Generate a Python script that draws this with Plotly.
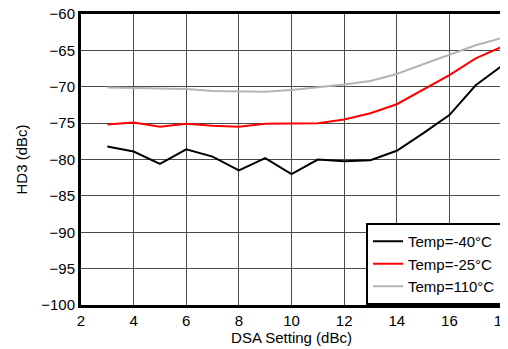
import plotly.graph_objects as go

dsa = [3, 4, 5, 6, 7, 8, 9, 10, 11, 12, 13, 14, 15, 16, 17, 18]
hd3_m40 = [-78.2, -78.9, -80.6, -78.6, -79.6, -81.5, -79.8, -82.0, -80.0, -80.25, -80.1, -78.8, -76.4, -73.9, -69.8, -67.1]
hd3_m25 = [-75.2, -74.9, -75.5, -75.1, -75.35, -75.5, -75.1, -75.0, -75.0, -74.5, -73.65, -72.4, -70.45, -68.4, -66.1, -64.5]
hd3_110 = [-70.1, -70.2, -70.3, -70.3, -70.6, -70.7, -70.7, -70.45, -70.1, -69.7, -69.2, -68.25, -66.9, -65.6, -64.3, -63.3]
names = ["Temp=-40°C", "Temp=-25°C", "Temp=110°C"]
colors = ["#000000", "#ff0000", "#b4b4b4"]

fig = go.Figure()
for y, n, c in zip([hd3_m40, hd3_m25, hd3_110], names, colors):
    fig.add_trace(go.Scatter(x=dsa, y=y, name=n, mode="lines",
                             line=dict(color=c, width=2)))

font = "Liberation Sans, Arial, sans-serif"
fig.update_layout(
    width=500, height=341,
    margin=dict(l=73, r=6, t=6, b=44),
    paper_bgcolor="white", plot_bgcolor="white",
    font=dict(family=font, size=15, color="black"),
    showlegend=True,
    legend=dict(x=1, y=0, xanchor="right", yanchor="bottom",
                bgcolor="white", bordercolor="black", borderwidth=2,
                font=dict(size=15), tracegroupgap=0),
    xaxis=dict(range=[2, 18], dtick=2, tick0=2, automargin=False,
               ticklabeloverflow="allow",
               showgrid=True, gridcolor="#4a4a4a", gridwidth=1,
               showline=True, linecolor="black", linewidth=3, mirror=True,
               ticks="", zeroline=False,
               title=dict(text="DSA Setting (dBc)", font=dict(size=15), standoff=0)),
    yaxis=dict(range=[-100, -60], dtick=5, automargin=False,
               ticklabeloverflow="allow",
               showgrid=True, gridcolor="#4a4a4a", gridwidth=1,
               showline=True, linecolor="black", linewidth=3, mirror=True,
               ticks="", zeroline=False,
               title=dict(text="HD3 (dBc)", font=dict(size=15), standoff=10)),
)
fig.write_html("out.html")
